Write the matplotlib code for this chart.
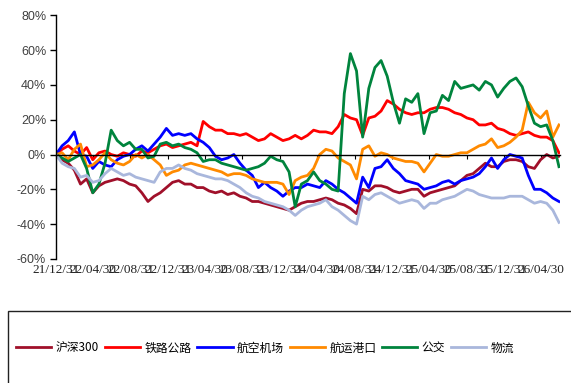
import matplotlib
matplotlib.use('Agg')
import matplotlib.pyplot as plt
import matplotlib.dates as mdates
from matplotlib.patches import Rectangle
import pandas as pd

# sample dates: every 20 days from 2021-12-31
dates = pd.date_range('2021-12-31', periods=83, freq='20D')

hs300 = [0, -3, -5, -9, -17, -14, -22, -18, -16, -15,
         -14, -15, -17, -18, -22, -27, -24, -22, -19, -16,
         -15, -17, -17, -19, -19, -21, -22, -21, -23, -22,
         -24, -25, -27, -27, -28, -29, -30, -31, -32, -30,
         -28, -27, -27, -26, -25, -26, -28, -29, -31, -34,
         -20, -21, -18, -18, -19, -21, -22, -21, -20, -20,
         -24, -22, -21, -20, -19, -18, -15, -12, -11, -8,
         -5, -7, -7, -4, -3, -3, -4, -7, -8, -3,
         0, -2, -1]
rail = [0, 3, 5, 2, 0, 4, -3, 1, 2, 0,
        -1, 1, 0, -1, 2, 1, 3, 5, 6, 4,
        5, 6, 7, 5, 19, 16, 14, 14, 12, 12,
        11, 12, 10, 8, 9, 12, 10, 8, 9, 11,
        9, 11, 14, 13, 13, 12, 16, 23, 21, 20,
        11, 21, 22, 25, 31, 29, 26, 24, 23, 24,
        24, 26, 27, 27, 26, 24, 23, 21, 20, 17,
        17, 18, 15, 14, 12, 11, 12, 13, 11, 10,
        10, 8, 1]
air = [0, 5, 8, 13, 0, -1, -8, -4, -6, -7,
       -3, -1, 0, 3, 5, 2, 6, 10, 15, 11,
       12, 11, 12, 9, 7, 4, -1, -3, -2, 0,
       -5, -9, -12, -19, -16, -19, -21, -24, -21, -19,
       -19, -17, -18, -19, -15, -17, -20, -22, -25, -28,
       -13, -19, -8, -7, -3, -8, -11, -15, -16, -17,
       -20, -19, -18, -16, -15, -17, -15, -14, -13, -11,
       -7, -2, -8, -3, 0, -1, -2, -12, -20, -20,
       -22, -25, -27]
ship = [0, 1, -3, 3, 6, -7, -6, -3, 1, -3,
        -5, -6, -4, 0, -2, 0, -3, -6, -12, -10,
        -9, -6, -5, -6, -7, -8, -9, -10, -12, -11,
        -11, -12, -14, -15, -16, -16, -16, -17, -23, -15,
        -13, -12, -8, 0, 3, 2, -2, -4, -6, -14,
        3, 5, -1, 1, 0, -2, -3, -4, -4, -5,
        -10, -5, 0, -1, -1, 0, 1, 1, 3, 5,
        6, 9, 4, 5, 7, 10, 14, 30, 24, 21,
        25, 10, 17]
bus = [0, -2, -4, -2, 0, -8, -22, -17, -5, 14,
       8, 5, 7, 3, 3, -2, -1, 6, 7, 5,
       6, 4, 3, 1, -4, -3, -3, -5, -6, -7,
       -8, -9, -8, -7, -5, -1, -3, -4, -10, -30,
       -17, -15, -10, -15, -17, -20, -21, 35, 58, 48,
       10, 38, 50, 54, 45, 30, 18, 32, 30, 35,
       12, 24, 25, 34, 31, 42, 38, 39, 40, 37,
       42, 40, 33, 38, 42, 44, 39, 28, 18, 16,
       17, 8, -7]
logistics = [0, -5, -7, -8, -13, -12, -16, -15, -11, -8,
             -10, -12, -11, -13, -14, -15, -16, -10, -8, -8,
             -6, -8, -9, -11, -12, -13, -14, -14, -15, -17,
             -19, -22, -24, -25, -27, -28, -29, -30, -32, -35,
             -32, -30, -29, -28, -26, -30, -32, -35, -38, -40,
             -24, -26, -23, -22, -24, -26, -28, -27, -26, -27,
             -31, -28, -28, -26, -25, -24, -22, -20, -21, -23,
             -24, -25, -25, -25, -24, -24, -24, -26, -28, -27,
             -28, -32, -39]

names = ['沪深300', '铁路公路', '航空机场', '航运港口', '公交', '物流']
colors = ['#A0102A', '#FF0000', '#0000FF', '#FF8A00', '#00843D', '#A9B7DC']

tick_dates = ['2021-12-31', '2022-04-30', '2022-08-31', '2022-12-31',
              '2023-04-30', '2023-08-31', '2023-12-31', '2024-04-30',
              '2024-08-31', '2024-12-31', '2025-04-30', '2025-08-31',
              '2025-12-31', '2026-04-30']
tick_labels = ['21/12/31', '22/04/30', '22/08/31', '22/12/31',
               '23/04/30', '23/08/31', '23/12/31', '24/04/30',
               '24/08/31', '24/12/31', '25/04/30', '25/08/31',
               '25/12/31', '26/04/30']

x = mdates.date2num(dates.to_pydatetime())
ticks = mdates.date2num(pd.to_datetime(tick_dates).to_pydatetime())

fig = plt.figure(figsize=(5.71, 3.83), dpi=100)
ax = fig.add_axes([0.098, 0.324, 0.882, 0.636])

series = [hs300, rail, air, ship, bus, logistics]
for vals, name, c in zip(series, names, colors):
    ax.plot(x, vals, color=c, lw=2.0, label=name)

ax.set_ylim(-60, 80)
ax.set_xlim(x[0], mdates.date2num(pd.Timestamp('2026-06-30')))
ax.set_yticks(range(-60, 81, 20))
ax.set_yticklabels([f'{v}%' for v in range(-60, 81, 20)],
                   family='Liberation Sans', fontsize=9, color='#404040')
ax.tick_params(axis='y', direction='out', length=4, width=1, pad=3)

for s in ['top', 'right']:
    ax.spines[s].set_visible(False)
ax.spines['left'].set_linewidth(1)
ax.spines['bottom'].set_position(('data', 0))
ax.spines['bottom'].set_linewidth(1)
ax.set_xticks(ticks)
ax.tick_params(axis='x', direction='out', length=3, labelbottom=False)

sec = ax.secondary_xaxis('bottom')
sec.set_xticks(ticks)
sec.set_xticklabels(tick_labels, family='Liberation Serif', fontsize=9.5, color='#222222')
sec.tick_params(length=0, pad=4)
sec.spines['bottom'].set_visible(False)

# legend box
fig.add_artist(Rectangle((8 / 571, -0.1), 1.0, 0.1 + 1 - 311 / 383,
                         transform=fig.transFigure, fill=False,
                         edgecolor='#222222', lw=1))
fig.legend(loc='center left', bbox_to_anchor=(16 / 571, 1 - 348 / 383),
           ncol=6, frameon=False, borderpad=0, borderaxespad=0,
           handlelength=3.0, handletextpad=0.35, columnspacing=0.5,
           prop={'family': ['Noto Sans CJK SC', 'DejaVu Sans'], 'size': 8.5})

fig.savefig('out.png', dpi=100)
